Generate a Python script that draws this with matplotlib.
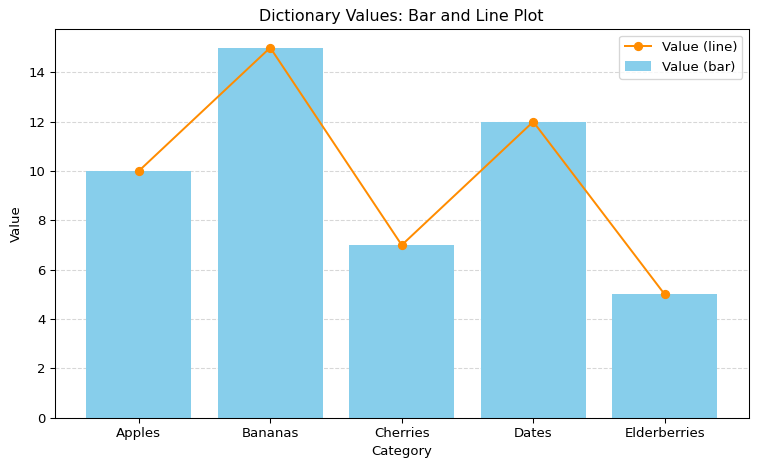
import matplotlib.pyplot as plt

# data
categories = ["Apples", "Bananas", "Cherries", "Dates", "Elderberries"]
values = [10, 15, 7, 12, 5]

fig, ax = plt.subplots(figsize=(758 / 95, 470 / 95), dpi=95)
fig.subplots_adjust(left=0.072, right=0.988, top=0.938, bottom=0.111)

ax.bar(categories, values, color="skyblue", label="Value (bar)")
ax.plot(categories, values, color="darkorange", marker="o", label="Value (line)")

ax.set_title("Dictionary Values: Bar and Line Plot")
ax.set_xlabel("Category")
ax.set_ylabel("Value")
ax.grid(axis="y", linestyle="--", alpha=0.5)
ax.set_axisbelow(True)
ax.legend(loc="upper right")

fig.savefig("out.png")
